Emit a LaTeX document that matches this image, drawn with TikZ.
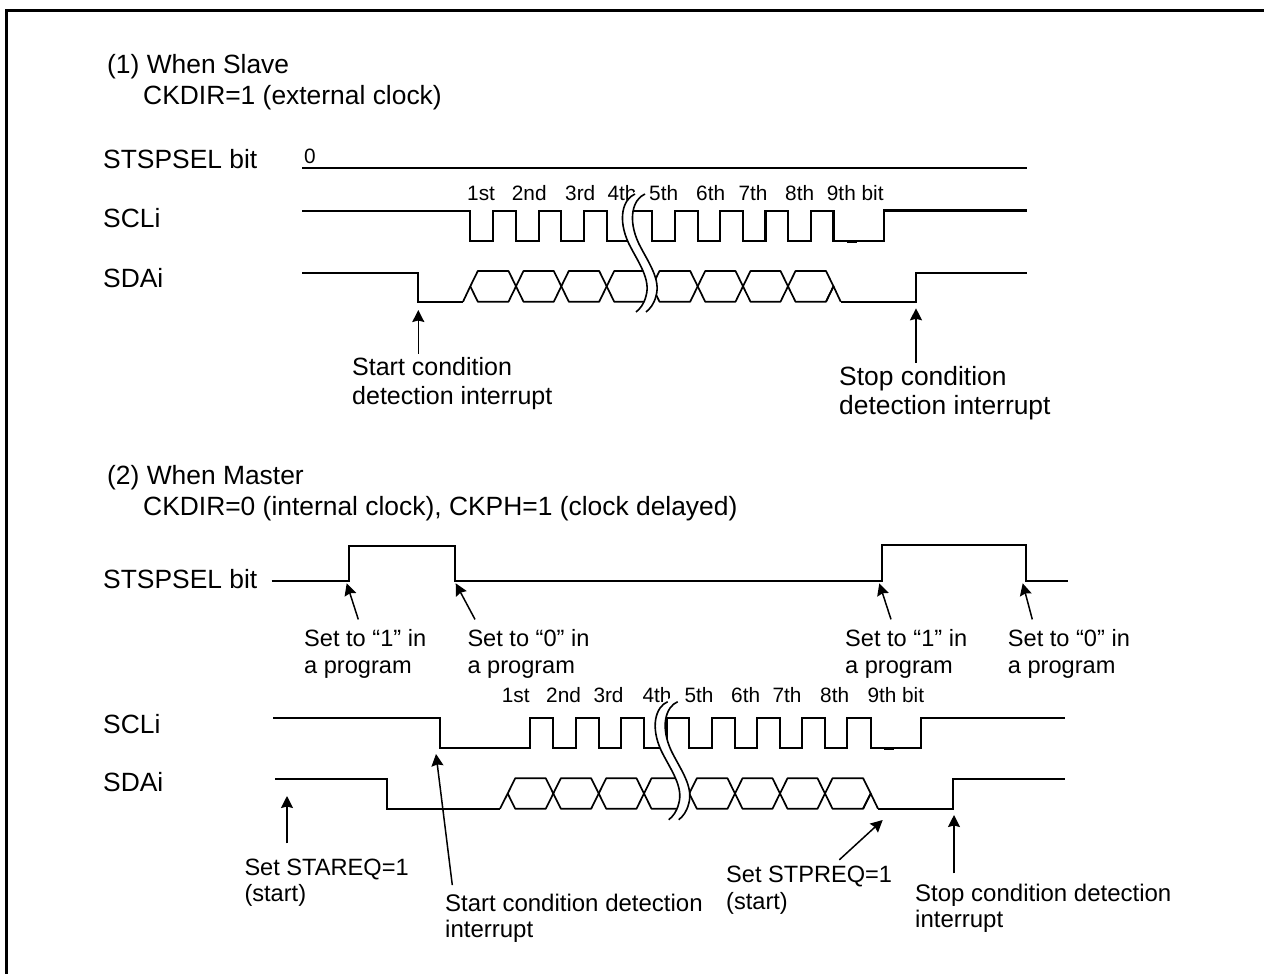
\documentclass[tikz,border=0pt]{standalone}
\usepackage{fontspec}
\setmainfont{Liberation Sans}
\usetikzlibrary{arrows.meta}

\tikzset{
  wave/.style={line width=2.2pt, line join=miter},
  busline/.style={line width=1.7pt, line join=round},
  pointer/.style={line width=1.5pt, -{Stealth[length=12pt,width=12pt,inset=1.5pt]}},
  lbl/.style 2 args={inner sep=0pt, anchor=base west, align=left, font=\fontsize{#1}{#2}\selectfont},
  biglbl/.style={lbl={26.4}{29}},
  setlbl/.style={lbl={23.6}{26.5}},
  bitlbl/.style={inner sep=0pt, anchor=base west, font=\fontsize{20.8}{22}\selectfont},
  wavebreak/.pic={
    \draw[white, line width=9pt] \breakcurve{5};
    \draw[line width=1.6pt] \breakcurve{0};
    \draw[line width=1.6pt] \breakcurve{10};
  }
}
\newcommand{\breakcurve}[1]{(#1,0) .. controls (#1-12,5) and (#1-18,25) .. (#1-6,50)
  .. controls (#1+3,68) and (#1+16,85) .. (#1+11,102) .. controls (#1+9,110) and (#1+5,115) .. (#1+1,118)}

\begin{document}
\begin{tikzpicture}[x=1pt, y=-1pt, >=Stealth]
  \useasboundingbox (0,0) rectangle (1264,974);
  \draw[line width=3pt] (6.5,974) -- (6.5,10.5) -- (1264,10.5);

  % (1) slave
  \node[biglbl] (slavetitle) at (107,73.5) {(1) When Slave};
  \node[biglbl] (slavemode) at (143,104) {CKDIR=1 (external clock)};
  \node[biglbl] (slavesel) at (103,168) {STSPSEL bit};
  \node[biglbl] (slavescl) at (103,227) {SCLi};
  \node[biglbl] (slavesda) at (103,287) {SDAi};
  \node[bitlbl] (slavezero) at (304,163) {0};
  \foreach \x/\t [count=\i] in {467/1st,511.7/2nd,565/3rd,607.3/4th,649/5th,696/6th,738.3/7th,785/8th,826.7/9th bit}
    \node[bitlbl] (slavebit\i) at (\x,200) {\t};

  \draw[wave] (302,168) -- (1027,168);
  \draw[wave] (302,211.3) -- (470.3,211.3) -- (470.3,241.3) -- (493.3,241.3) -- (493.3,211.3)
    -- (516,211.3) -- (516,241.3) -- (538.7,241.3) -- (538.7,211.3) -- (561.3,211.3) -- (561.3,241.3)
    -- (584,241.3) -- (584,211.3) -- (606.7,211.3) -- (606.7,241.3) -- (629.3,241.3) -- (629.3,211.3)
    -- (651.7,211.3) -- (651.7,241.3) -- (674.7,241.3) -- (674.7,211.3) -- (697.7,211.3) -- (697.7,241.3)
    -- (720,241.3) -- (720,211.3) -- (743,211.3) -- (743,241.3) -- (765.5,241.3) -- (765.5,211.3)
    -- (788,211.3) -- (788,241.3) -- (811,241.3) -- (811,211.3) -- (833.5,211.3) -- (833.5,241.3)
    -- (884,241.3) -- (884,210.5) -- (1027,210.5);
  \draw[line width=3pt] (847,241.3) -- (857,241.3);
  \draw[wave] (302,272.7) -- (418.3,272.7) -- (418.3,301.7) -- (463,301.7);
  \draw[wave] (840.7,301.7) -- (916,301.7) -- (916,272.7) -- (1027,272.7);
  \foreach \a/\b in {470.3/516,516/561.3,561.3/606.7,606.7/652,652/697.7,697.7/743,743/788,788/833.5}
    \draw[busline] (\a,286.3) -- (\a+7.5,271) -- (\b-7.5,271) -- (\b,286.3) -- (\b-7.5,301.7) -- (\a+7.5,301.7) -- cycle;
  \draw[busline] (463,301.7) -- (470.3,286.3);
  \draw[busline] (833.5,286.3) -- (840.7,301.7);
  \draw[busline] (826,301.7) -- (833.5,286.3);
  \pic at (635,194) {wavebreak};

  \node[lbl={25}{29}] (slavestart) at (352,404) {Start condition\\detection interrupt};
  \node[biglbl] (slavestop) at (839,414) {Stop condition\\detection interrupt};
  \coordinate (slavestarttip) at (418.3,310);
  \coordinate (slavestoptip) at (916,308.3);
  \draw[pointer] ([xshift=66.3pt,yshift=3pt]slavestart.north west) -- (slavestarttip);
  \draw[pointer] ([xshift=77pt,yshift=3pt]slavestop.north west) -- (slavestoptip);

  % (2) master
  \node[biglbl] (mastertitle) at (107,484) {(2) When Master};
  \node[biglbl] (mastermode) at (143,515) {CKDIR=0 (internal clock), CKPH=1 (clock delayed)};
  \node[biglbl] (mastersel) at (103,588) {STSPSEL bit};
  \node[biglbl] (masterscl) at (103,733) {SCLi};
  \node[biglbl] (mastersda) at (103,791) {SDAi};
  \foreach \x/\t [count=\i] in {501.7/1st,546/2nd,593.3/3rd,642.3/4th,684.3/5th,731/6th,772.3/7th,820/8th,867.3/9th bit}
    \node[bitlbl] (masterbit\i) at (\x,702.3) {\t};

  \draw[wave] (271.7,580.7) -- (349.3,580.7) -- (349.3,546) -- (455,546) -- (455,580.7) -- (882.3,580.7)
    -- (882.3,545) -- (1026,545) -- (1026,580.7) -- (1068.3,580.7);
  \draw[wave] (273,718.3) -- (440,718.3) -- (440,748.3) -- (530.3,748.3) -- (530.3,718.3) -- (553.3,718.3)
    -- (553.3,748.3) -- (575.7,748.3) -- (575.7,718.3) -- (598.7,718.3) -- (598.7,748.3) -- (621,748.3)
    -- (621,718.3) -- (644,718.3) -- (644,748.3) -- (666.5,748.3) -- (666.5,718.3) -- (689.3,718.3)
    -- (689.3,748.3) -- (712,748.3) -- (712,718.3) -- (734.7,718.3) -- (734.7,748.3) -- (757.3,748.3)
    -- (757.3,718.3) -- (780,718.3) -- (780,748.3) -- (802,748.3) -- (802,718.3) -- (825,718.3)
    -- (825,748.3) -- (847,748.3) -- (847,718.3) -- (870.7,718.3) -- (870.7,748.3) -- (921,748.3)
    -- (921,718) -- (1065,718);
  \draw[line width=3pt] (884,748.3) -- (894,748.3);
  \draw[wave] (275,779.3) -- (387.3,779.3) -- (387.3,808.7) -- (500,808.7);
  \draw[wave] (878,808.7) -- (953,808.7) -- (953,779.3) -- (1065,779.3);
  \foreach \a/\b in {507.7/553.3,553.3/598.7,598.7/644,644/689.3,689.3/735,735/780,780/825,825/870.7}
    \draw[busline] (\a,793.5) -- (\a+7.5,778.3) -- (\b-7.5,778.3) -- (\b,793.5) -- (\b-7.5,808.7) -- (\a+7.5,808.7) -- cycle;
  \draw[busline] (500,808.7) -- (507.7,793.5);
  \draw[busline] (870.7,793.5) -- (878,808.7);
  \draw[busline] (863,808.7) -- (870.7,793.5);
  \pic at (667.7,701.7) {wavebreak};

  \node[setlbl] (setone) at (304,673.2) {Set to “1” in\\a program};
  \node[setlbl] (setzero) at (467.3,673.2) {Set to “0” in\\a program};
  \node[setlbl] (setoneb) at (845,673.2) {Set to “1” in\\a program};
  \node[setlbl] (setzerob) at (1007.7,673.2) {Set to “0” in\\a program};
  \node[setlbl] (setstart) at (244.3,901.5) {Set STAREQ=1\\(start)};
  \node[lbl={24}{26}] (masterstart) at (445,937.7) {Start condition detection\\interrupt};
  \node[setlbl] (setstop) at (726,909) {Set STPREQ=1\\(start)};
  \node[lbl={24}{26}] (masterstop) at (915,927) {Stop condition detection\\interrupt};

  \coordinate (setonetip) at (346.7,583.3);
  \coordinate (setzerotip) at (455.7,583.3);
  \coordinate (setonebtip) at (879.3,583.3);
  \coordinate (setzerobtip) at (1022.7,583.3);
  \coordinate (setstarttip) at (287,796);
  \coordinate (masterstarttip) at (436,754);
  \coordinate (setstoptip) at (882.7,820);
  \coordinate (masterstoptip) at (954,815);
  \draw[pointer] ([xshift=54.3pt,yshift=10pt]setone.north west) -- (setonetip);
  \draw[pointer] ([xshift=7.7pt,yshift=10pt]setzero.north west) -- (setzerotip);
  \draw[pointer] ([xshift=46pt,yshift=10pt]setoneb.north west) -- (setonebtip);
  \draw[pointer] ([xshift=24.6pt,yshift=10pt]setzerob.north west) -- (setzerobtip);
  \draw[pointer] ([xshift=42.7pt,yshift=15pt]setstart.north west) -- (setstarttip);
  \draw[pointer] ([xshift=7.3pt,yshift=9pt]masterstart.north west) -- (masterstarttip);
  \draw[pointer] ([xshift=113.3pt,yshift=6pt]setstop.north west) -- (setstoptip);
  \draw[pointer] ([xshift=39pt,yshift=10pt]masterstop.north west) -- (masterstoptip);
\end{tikzpicture}
\end{document}
